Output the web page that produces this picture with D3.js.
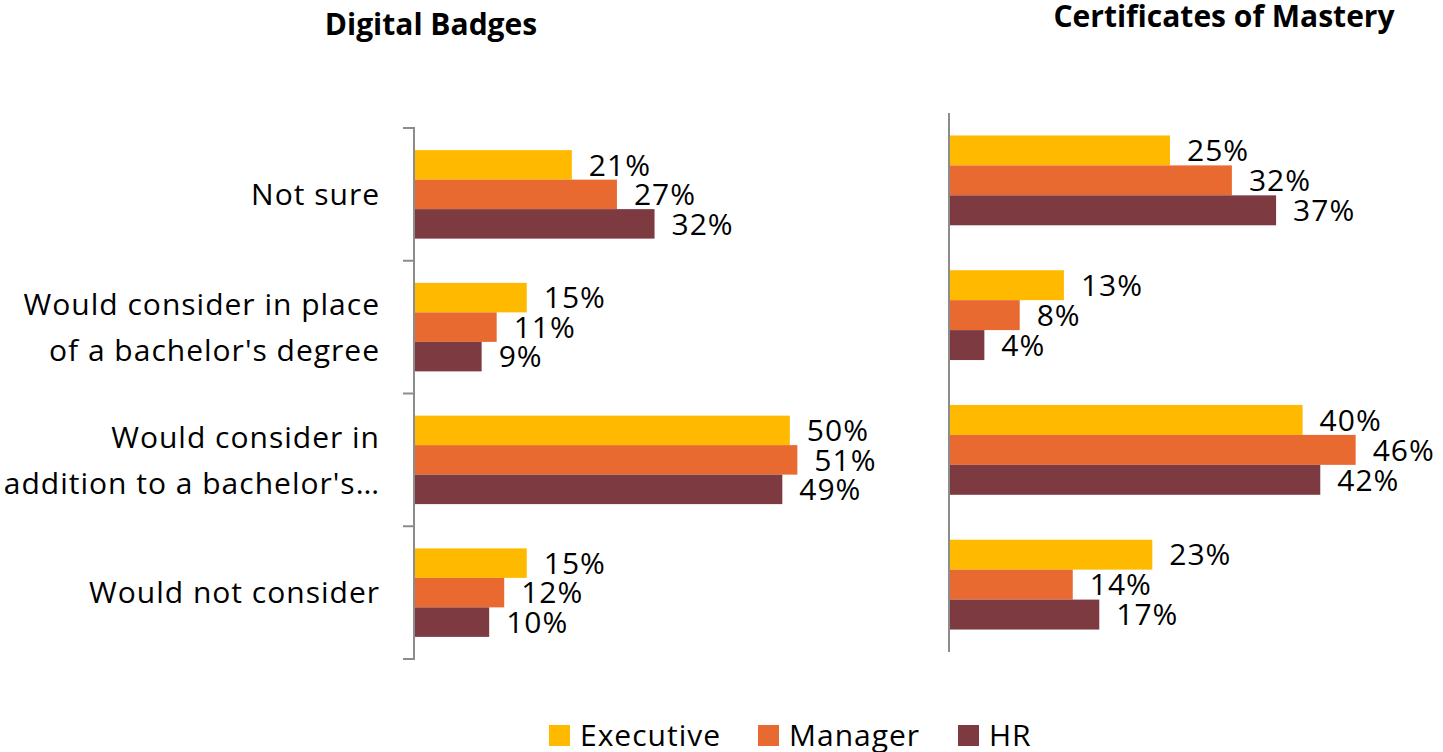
<!DOCTYPE html>
<html>
<head>
<meta charset="utf-8">
<script src="https://cdn.jsdelivr.net/npm/d3@7/dist/d3.min.js"></script>
<style>
  html, body { margin: 0; padding: 0; background: #fff; overflow: hidden; }
  svg { display: block; }
  text { font-family: "Open Sans", "Noto Sans", sans-serif; fill: #000; }
  .lbl { font-size: 30px; letter-spacing: 1px; }
  .ttl { font-size: 30px; font-weight: bold; }
</style>
</head>
<body>
<svg id="chart" width="1443" height="752"></svg>
<script>
// Survey responses, percent of respondents
const categories = [
  "Not sure",
  "Would consider in place of a bachelor's degree",
  "Would consider in addition to a bachelor's degree",
  "Would not consider"
];
// How each category label is broken into lines on the left panel
const categoryLines = [
  ["Not sure"],
  ["Would consider in place", "of a bachelor's degree"],
  ["Would consider in", "addition to a bachelor's\u2026"],
  ["Would not consider"]
];
const series = ["Executive", "Manager", "HR"];
const colors = ["#FFBA00", "#E96A31", "#7D3A41"];

const badgesExecutive = [21, 15, 50, 15];
const badgesManager   = [27, 11, 51, 12];
const badgesHR        = [32, 9, 49, 10];

const certsExecutive = [25, 13, 40, 23];
const certsManager   = [32, 8, 46, 14];
const certsHR        = [37, 4, 42, 17];

const svg = d3.select("#chart");
const color = d3.scaleOrdinal().domain(series).range(colors);
const CAP = 10.7; // half cap height, to centre text on a y position

function panel(opts) {
  const { title, titleX, titleY, values, x0, xMax, pxMax, yTop, yBottom, ticks, labels } = opts;
  const g = svg.append("g");

  const x = d3.scaleLinear().domain([0, xMax]).range([x0, pxMax]);
  const y0 = d3.scaleBand().domain(categories).range([yTop, yBottom]).padding(0);
  const y1 = d3.scaleBand().domain(series).range([0, y0.bandwidth()])
    .paddingInner(0).paddingOuter(0.75);

  const rows = categories.map((c, i) => ({
    cat: c,
    vals: series.map((s, j) => ({ s, v: values[j][i] }))
  }));

  const grp = g.selectAll("g.cat").data(rows).join("g")
    .attr("class", "cat")
    .attr("transform", d => `translate(0,${y0(d.cat)})`);

  grp.selectAll("rect").data(d => d.vals).join("rect")
    .attr("x", x(0))
    .attr("y", d => y1(d.s))
    .attr("width", d => x(d.v) - x(0))
    .attr("height", y1.bandwidth())
    .attr("fill", d => color(d.s));

  grp.selectAll("text.val").data(d => d.vals).join("text")
    .attr("class", "val lbl")
    .attr("x", d => x(d.v) + 17)
    .attr("y", d => y1(d.s) + y1.bandwidth() / 2 + CAP)
    .text(d => d.v + "%");

  // Category axis: a vertical line, with short ticks between categories on the left panel
  const tk = ticks ? 11 : 0;
  const axis = d3.axisLeft(y0).tickSize(0).tickFormat("");
  const ag = g.append("g").attr("transform", `translate(${x0},0)`).call(axis);
  ag.selectAll(".tick").remove();
  ag.select(".domain").attr("stroke", "#8c8c8c").attr("stroke-width", 2)
    .attr("d", `M${-tk},${yTop}H0V${yBottom}H${-tk}`);
  if (ticks) {
    const bounds = categories.map(c => y0(c)).slice(1);
    ag.selectAll("line.sep").data(bounds).join("line")
      .attr("class", "sep")
      .attr("x1", -tk).attr("x2", 0)
      .attr("y1", d => d).attr("y2", d => d)
      .attr("stroke", "#8c8c8c").attr("stroke-width", 2);
  }

  if (labels) {
    const lg = g.selectAll("text.cat").data(rows.map((r, i) => ({ cat: r.cat, lines: categoryLines[i] })))
      .join("text")
      .attr("class", "cat lbl")
      .attr("text-anchor", "end");
    lg.each(function (d) {
      const t = d3.select(this);
      const cy = y0(d.cat) + y0.bandwidth() / 2;
      const lh = 46;
      d.lines.forEach((ln, k) => {
        t.append("tspan")
          .attr("x", x0 - 34)
          .attr("y", cy + (k - (d.lines.length - 1) / 2) * lh + CAP)
          .text(ln);
      });
    });
  }

  g.append("text")
    .attr("class", "ttl")
    .attr("x", titleX).attr("y", titleY)
    .attr("text-anchor", "middle")
    .text(title);
}

panel({
  title: "Digital Badges", titleX: 431, titleY: 35,
  values: [badgesExecutive, badgesManager, badgesHR],
  x0: 414, xMax: 60, pxMax: 865,
  yTop: 128, yBottom: 659, ticks: true, labels: true
});

panel({
  title: "Certificates of Mastery", titleX: 1224, titleY: 27,
  values: [certsExecutive, certsManager, certsHR],
  x0: 949, xMax: 50, pxMax: 1391,
  yTop: 113, yBottom: 652, ticks: false, labels: false
});

// Legend
const legendX = [549, 758, 958];
const lg = svg.append("g").selectAll("g").data(series).join("g")
  .attr("transform", (d, i) => `translate(${legendX[i]},725)`);
lg.append("rect").attr("width", 21).attr("height", 21).attr("fill", d => color(d));
lg.append("text").attr("class", "lbl").attr("x", 31).attr("y", 21).text(d => d);
</script>
</body>
</html>
